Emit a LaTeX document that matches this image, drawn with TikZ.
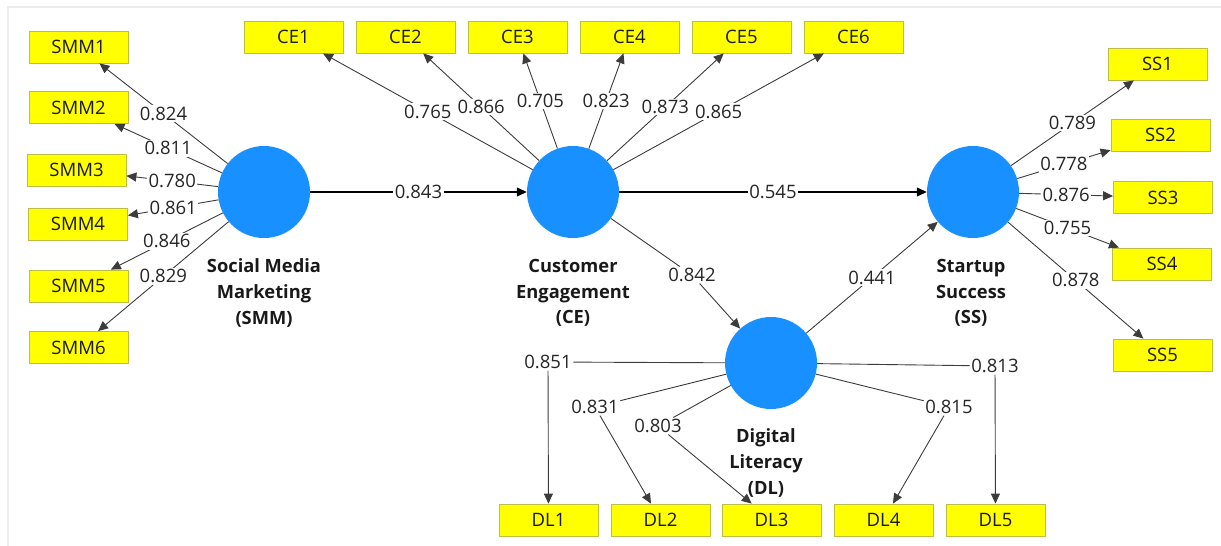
\documentclass[tikz,border=0pt]{standalone}
\usepackage{fontspec}
\setmainfont{Open Sans}
\usetikzlibrary{arrows.meta}
\definecolor{lvblue}{RGB}{24,144,255}
\definecolor{boxyellow}{RGB}{255,255,0}
\definecolor{boxedge}{RGB}{190,190,70}
\definecolor{framegray}{RGB}{236,236,236}
\definecolor{linegray}{RGB}{60,60,60}
\tikzset{
 latent/.style={circle,fill=lvblue,minimum size=92pt,inner sep=0pt},
 ind/.style={rectangle,fill=boxyellow,draw=boxedge,line width=0.8pt,minimum width=99pt,minimum height=32pt,inner sep=0pt,font=\fontsize{18.5}{20}\selectfont,text=black!90},
 lvlabel/.style={align=center,inner sep=0pt,font=\fontsize{18.3}{25.8}\selectfont\bfseries,text=black!90},
 coef/.style={fill=white,inner sep=1.5pt,font=\fontsize{18.5}{20}\selectfont,text=black!85},
 loadline/.style={draw=linegray,line width=0.9pt},
 loadarrow/.style={loadline,-{Triangle[length=10pt,width=9pt]}},
 pathline/.style={draw=black,line width=1.1pt},
 patharrow/.style={pathline,-{Triangle[length=10pt,width=9pt]}},
}
\begin{document}
\begin{tikzpicture}[x=1pt,y=-1pt]
\useasboundingbox (0,0) rectangle (1221,546);
\draw[framegray,line width=2pt] (8,546) -- (8,7) -- (1221,7);

% latent variables
\node[latent] (smm) at (264,192) {};
\node[latent] (ce) at (573,192) {};
\node[latent] (ss) at (973,192) {};
\node[latent] (dl) at (771,363) {};

\node[lvlabel] (smmlab) at (264,293) {Social Media\\Marketing\\(SMM)};
\node[lvlabel] (celab) at (573,293) {Customer\\Engagement\\(CE)};
\node[lvlabel] (sslab) at (971,293) {Startup\\Success\\(SS)};
\node[lvlabel] (dllab) at (766,463) {Digital\\Literacy\\(DL)};

% SMM indicators
\node[ind] (smm1) at (78.5,47) {SMM1};
\node[ind] (smm2) at (78.5,107.5) {SMM2};
\node[ind] (smm3) at (76.5,170) {SMM3};
\node[ind] (smm4) at (78,224) {SMM4};
\node[ind] (smm5) at (78.5,286) {SMM5};
\node[ind] (smm6) at (78.5,347.5) {SMM6};

% CE indicators
\node[ind] (ce1) at (293.5,37) {CE1};
\node[ind] (ce2) at (405.5,37) {CE2};
\node[ind] (ce3) at (517.5,37) {CE3};
\node[ind] (ce4) at (629.5,37) {CE4};
\node[ind] (ce5) at (741.5,37) {CE5};
\node[ind] (ce6) at (853.5,37) {CE6};

% SS indicators
\node[ind] (ss1) at (1157.5,64) {SS1};
\node[ind] (ss2) at (1160.5,135) {SS2};
\node[ind] (ss3) at (1163,197.5) {SS3};
\node[ind] (ss4) at (1162,264) {SS4};
\node[ind] (ss5) at (1162.5,355) {SS5};

% DL indicators
\node[ind] (dl1) at (548.5,520) {DL1};
\node[ind] (dl2) at (660.5,520) {DL2};
\node[ind] (dl3) at (771.5,520) {DL3};
\node[ind] (dl4) at (883.5,520) {DL4};
\node[ind] (dl5) at (995.5,520) {DL5};

% SMM loadings
\draw[loadarrow] (smm) -- node[coef]{0.824} (smm1);
\draw[loadarrow] (smm) -- node[coef]{0.811} (smm2);
\draw[loadarrow] (smm) -- node[coef]{0.780} (smm3);
\draw[loadarrow] (smm) -- node[coef]{0.861} (smm4);
\draw[loadarrow] (smm) -- node[coef]{0.846} (smm5);
\draw[loadarrow] (smm) -- node[coef]{0.829} (smm6);

% CE loadings
\draw[loadarrow] (ce) -- node[coef]{0.765} (ce1);
\draw[loadarrow] (ce) -- node[coef]{0.866} (ce2);
\draw[loadarrow] (ce) -- node[coef]{0.705} (ce3);
\draw[loadarrow] (ce) -- node[coef]{0.823} (ce4);
\draw[loadarrow] (ce) -- node[coef]{0.873} (ce5);
\draw[loadarrow] (ce) -- node[coef]{0.865} (ce6);

% SS loadings
\draw[loadarrow] (ss) -- node[coef]{0.789} (ss1);
\draw[loadarrow] (ss) -- node[coef]{0.778} (ss2);
\draw[loadarrow] (ss) -- node[coef]{0.876} (ss3);
\draw[loadarrow] (ss) -- node[coef]{0.755} (ss4);
\draw[loadarrow] (ss) -- node[coef]{0.878} (ss5);

% DL loadings (bent at the labels)
\node[coef] (l851) at (548,362) {0.851};
\node[coef] (l831) at (595,407) {0.831};
\node[coef] (l803) at (658,426) {0.803};
\node[coef] (l815) at (949,407) {0.815};
\node[coef] (l813) at (995,366) {0.813};
\draw[loadline] (dl) -- (l851);
\draw[loadarrow] (l851) -- (dl1);
\draw[loadline] (dl) -- (l831);
\draw[loadarrow] (l831) -- (dl2);
\draw[loadline] (dl) -- (l803);
\draw[loadarrow] (l803) -- (dl3);
\draw[loadline] (dl) -- (l815);
\draw[loadarrow] (l815) -- (dl4);
\draw[loadline] (dl) -- (l813);
\draw[loadarrow] (l813) -- (dl5);

% structural paths
\draw[patharrow] (smm) -- node[coef]{0.843} (ce);
\draw[patharrow] (ce) -- node[coef]{0.545} (ss);
\node[coef] (l842) at (692,275) {0.842};
\draw[loadline] (ce) -- (l842);
\draw[loadarrow] (l842) -- (dl);
\draw[loadarrow] (dl) -- node[coef]{0.441} (ss);
\end{tikzpicture}
\end{document}
